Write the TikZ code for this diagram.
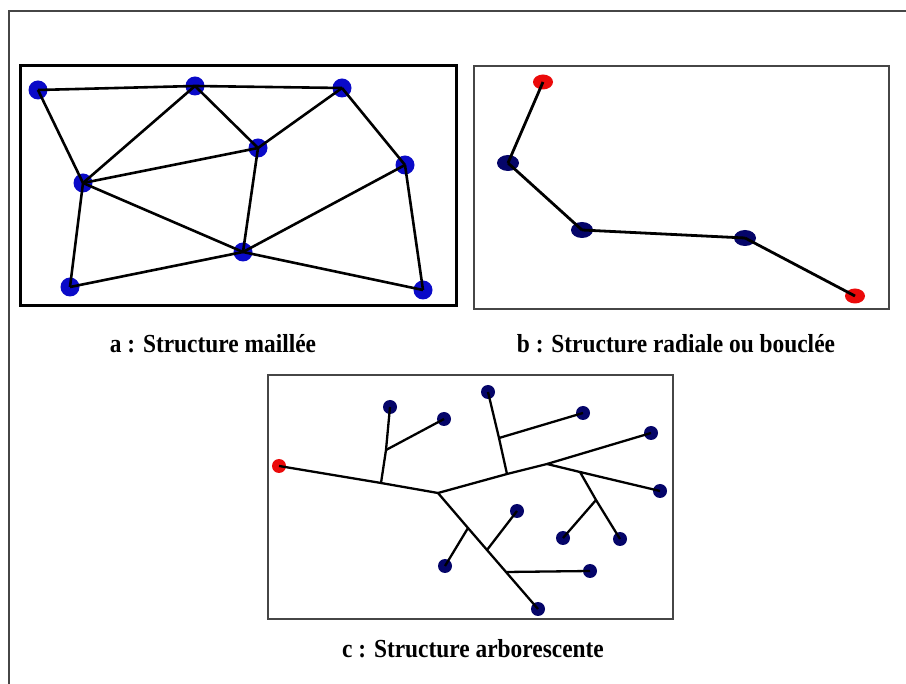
\documentclass[tikz,border=0pt]{standalone}
\usepackage{fontspec}
\setmainfont{Liberation Serif}
\usetikzlibrary{shapes.geometric}
\definecolor{dotblue}{RGB}{10,10,200}
\definecolor{dotnavy}{RGB}{5,5,105}
\definecolor{dotred}{RGB}{235,10,10}
\definecolor{framegray}{RGB}{70,70,70}
\newcommand{\captxt}[1]{\scalebox{0.9}[1]{\fontsize{26}{30}\selectfont\bfseries #1}}
\tikzset{
  mdot/.style={circle,fill=dotblue,inner sep=0pt,minimum size=19pt},
  bdot/.style={ellipse,fill=dotnavy,inner sep=0pt,minimum width=22pt,minimum height=16pt},
  rbdot/.style={ellipse,fill=dotred,inner sep=0pt,minimum width=20pt,minimum height=15pt},
  cdot/.style={circle,fill=dotnavy,inner sep=0pt,minimum size=14pt},
  rcdot/.style={circle,fill=dotred,inner sep=0pt,minimum size=14pt},
  wire/.style={line width=2.6pt,black},
  cwire/.style={line width=2.3pt,black},
  captext/.style={anchor=base,inner sep=0pt},
}
\begin{document}
\begin{tikzpicture}[x=1pt,y=-1pt]
\useasboundingbox (0,0) rectangle (906,684);
\fill[white] (0,0) rectangle (906,684);
% outer frame
\draw[framegray,line width=2pt] (9,690) -- (9,11) -- (910,11);
% ---------- a ----------
\draw[black,line width=3pt] (20,66) rectangle (456,306);
\node[mdot] (a1) at (38,90) {};
\node[mdot] (a2) at (195,86) {};
\node[mdot] (a3) at (342,88) {};
\node[mdot] (a4) at (258,148) {};
\node[mdot] (a5) at (405,165) {};
\node[mdot] (a6) at (83,183) {};
\node[mdot] (a7) at (243,252) {};
\node[mdot] (a8) at (70,287) {};
\node[mdot] (a9) at (423,290) {};
\foreach \p/\q in {a1/a2,a2/a3,a1/a6,a6/a2,a2/a4,a4/a3,a3/a5,a6/a4,a4/a7,a6/a7,a6/a8,a8/a7,a7/a5,a7/a9,a5/a9}
  \draw[wire] (\p.center) -- (\q.center);
\node[captext] (capa) at (213,353) {\captxt{a : Structure maillée}};
% ---------- b ----------
\draw[framegray,line width=1.5pt] (474,66) rectangle (889,309);
\node[rbdot] (b1) at (543,82) {};
\node[bdot] (b2) at (508,163) {};
\node[bdot] (b3) at (582,230) {};
\node[bdot] (b4) at (745,238) {};
\node[rbdot] (b5) at (855,296) {};
\foreach \p/\q in {b1/b2,b2/b3,b3/b4,b4/b5}
  \draw[wire,line width=2.8pt] (\p.center) -- (\q.center);
\node[captext] (capb) at (676,353) {\captxt{b : Structure radiale ou bouclée}};
% ---------- c ----------
\draw[framegray,line width=1.5pt] (268,375) rectangle (673,619);
\node[rcdot] (cr) at (279,466) {};
\node[cdot] (l1) at (390,407) {};
\node[cdot] (l2) at (444,419) {};
\node[cdot] (l3) at (488,392) {};
\node[cdot] (l4) at (583,413) {};
\node[cdot] (l5) at (651,433) {};
\node[cdot] (l6) at (660,491) {};
\node[cdot] (l7) at (563,538) {};
\node[cdot] (l8) at (620,539) {};
\node[cdot] (l9) at (445,566) {};
\node[cdot] (l10) at (517,511) {};
\node[cdot] (l11) at (538,609) {};
\node[cdot] (l12) at (590,571) {};
\coordinate (j1) at (381,483);
\coordinate (k1) at (386,450);
\coordinate (j2) at (438,493);
\coordinate (j3) at (507,474);
\coordinate (k3) at (499,438);
\coordinate (j4) at (547,464);
\coordinate (j5) at (580,472);
\coordinate (j6) at (596,500);
\coordinate (j7) at (468,528);
\coordinate (j8) at (487,550);
\coordinate (j9) at (506,572);
\draw[cwire] (cr.center) -- (j1) -- (j2) -- (j3) -- (j4) -- (l5.center);
\draw[cwire] (j1) -- (k1) -- (l1.center);
\draw[cwire] (k1) -- (l2.center);
\draw[cwire] (j3) -- (k3) -- (l3.center);
\draw[cwire] (k3) -- (l4.center);
\draw[cwire] (j4) -- (j5) -- (l6.center);
\draw[cwire] (j5) -- (j6) -- (l8.center);
\draw[cwire] (j6) -- (l7.center);
\draw[cwire] (j2) -- (j7) -- (j8) -- (j9) -- (l11.center);
\draw[cwire] (j7) -- (l9.center);
\draw[cwire] (j8) -- (l10.center);
\draw[cwire] (j9) -- (l12.center);
\node[captext] (capc) at (473,657) {\captxt{c : Structure arborescente}};
\end{tikzpicture}
\end{document}
